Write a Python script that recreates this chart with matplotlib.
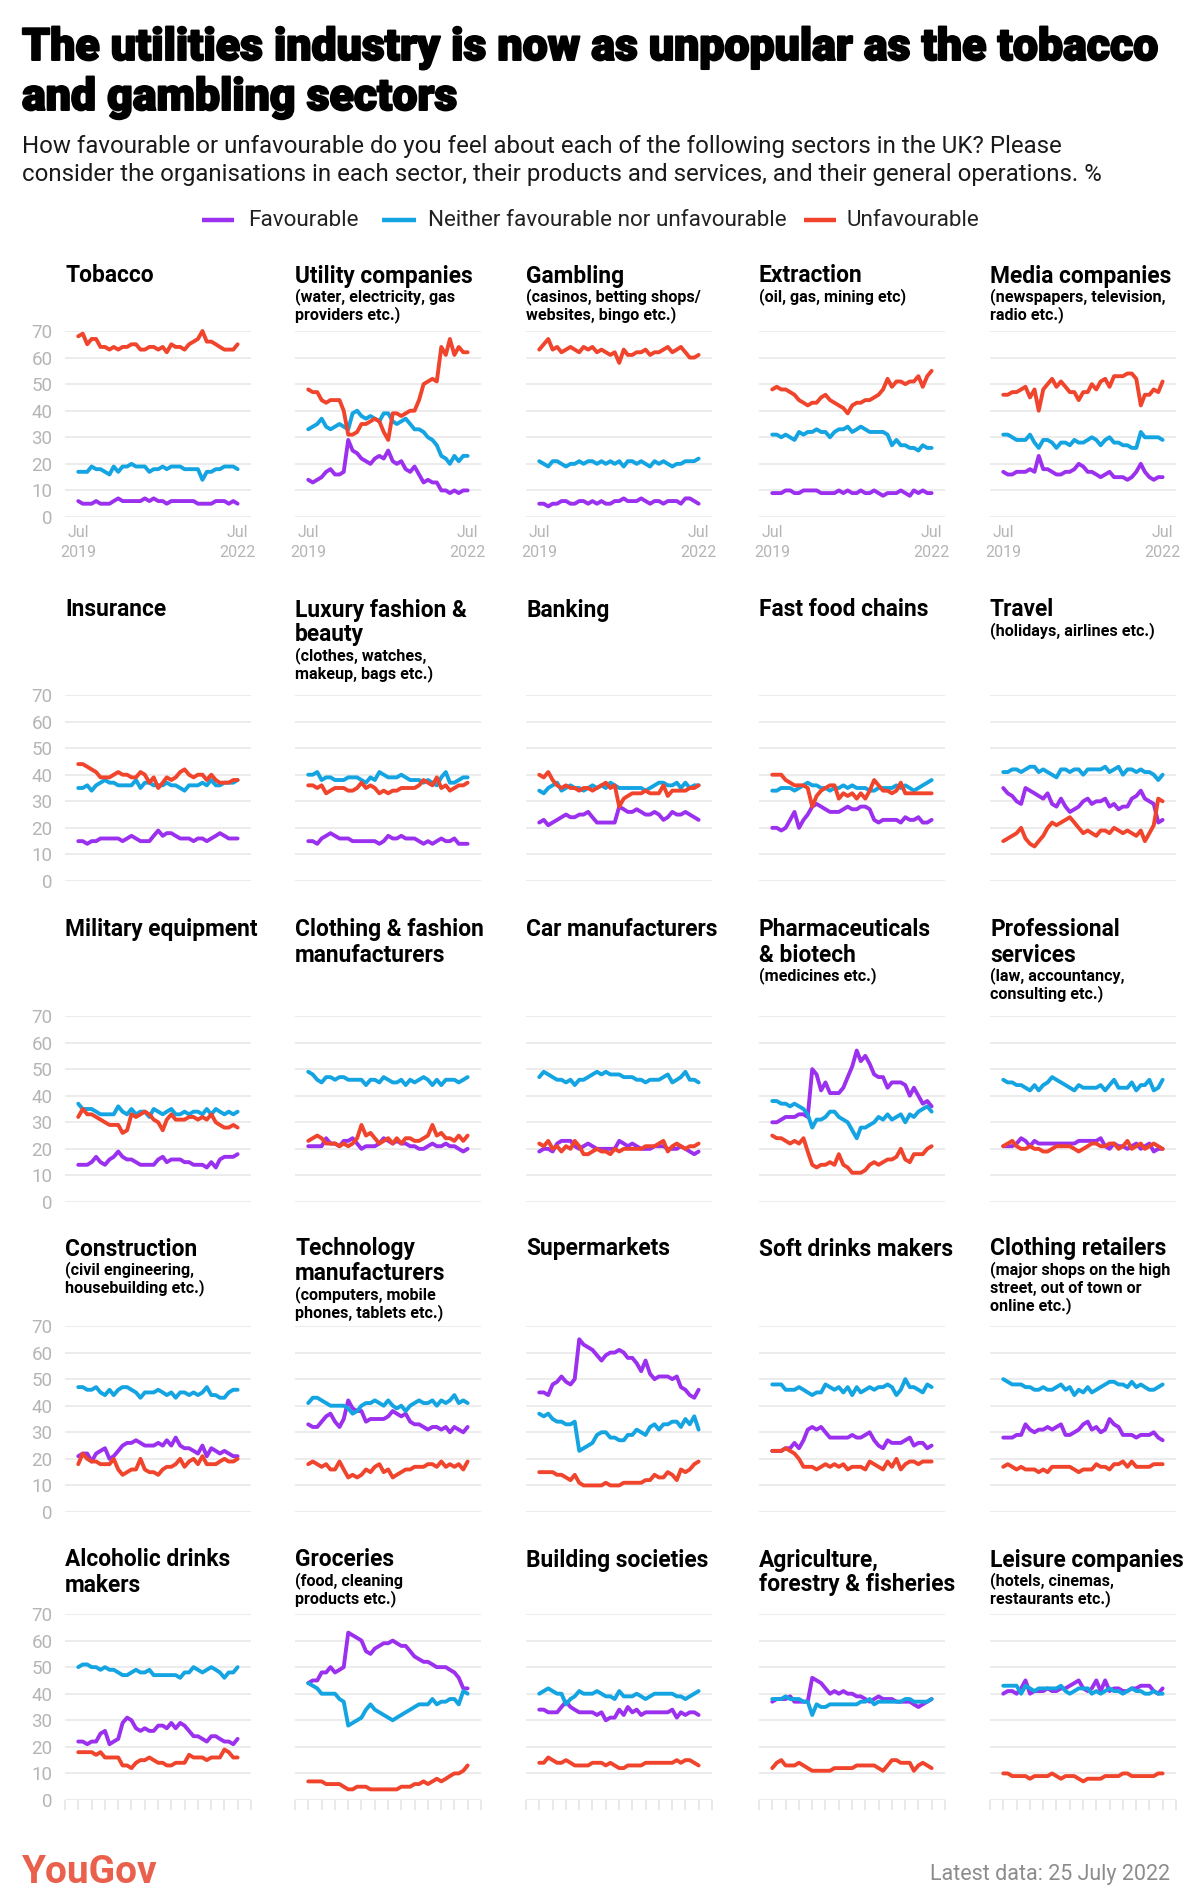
import matplotlib
matplotlib.use("Agg")
import matplotlib.pyplot as plt
import matplotlib.patheffects as pe
import numpy as np
import pandas as pd
from matplotlib.lines import Line2D

plt.rcParams['font.family'] = ['Roboto', 'DejaVu Sans']

# ---------------- data (monthly, Jul 2019 - Jul 2022) ----------------
dates = pd.date_range('2019-07-01', '2022-07-01', freq='MS')
series_names = ['Favourable', 'Neither favourable nor unfavourable', 'Unfavourable']

tobacco_fav = [6,5,5,5,6,5,5,5,6,7,6,6,6,6,6,7,6,7,6,6,5,6,6,6,6,6,6,5,5,5,5,6,6,6,5,6,5]
tobacco_nei = [17,17,17,19,18,18,17,16,19,17,19,19,20,19,19,19,17,18,18,19,18,19,19,19,18,18,18,18,14,17,17,18,18,19,19,19,18]
tobacco_unf = [68,69,65,67,67,64,64,63,64,63,64,64,65,65,63,63,64,64,63,64,62,65,64,64,63,65,66,67,70,66,66,65,64,63,63,63,65]

utility_fav = [14,13,14,15,17,18,16,16,17,29,25,24,22,21,20,22,23,22,25,21,20,21,18,17,19,16,13,14,13,13,10,10,9,10,9,10,10]
utility_nei = [33,34,35,37,34,33,34,35,34,33,39,40,38,37,38,37,36,39,39,36,35,36,37,35,33,33,32,30,29,27,23,22,20,23,21,23,23]
utility_unf = [48,47,47,44,43,44,44,44,40,31,31,32,35,35,36,37,36,32,29,39,39,38,39,40,40,44,50,51,52,51,64,61,67,61,64,62,62]

gambling_fav = [5,5,4,5,5,6,6,5,5,6,6,5,6,5,6,5,5,6,6,7,6,6,6,7,6,5,6,6,5,6,6,6,5,7,7,6,5]
gambling_nei = [21,20,19,21,21,20,19,20,20,21,20,21,21,20,21,20,21,20,21,19,21,21,20,21,20,19,21,20,21,20,19,20,20,21,21,21,22]
gambling_unf = [63,65,67,63,64,62,63,64,63,62,64,63,64,62,63,62,61,62,58,63,61,61,62,62,63,61,62,62,63,64,62,63,64,62,60,60,61]

extraction_fav = [9,9,9,10,10,9,9,10,10,10,10,9,9,9,9,10,9,10,9,9,10,9,9,10,9,8,9,9,9,10,9,8,10,9,10,9,9]
extraction_nei = [31,31,30,31,30,29,32,31,32,32,33,32,32,30,32,33,33,34,32,33,34,33,32,32,32,32,31,27,29,27,27,26,26,25,27,26,26]
extraction_unf = [48,49,48,48,47,46,44,43,42,43,43,45,46,44,43,42,41,39,42,43,43,44,44,45,46,48,52,49,51,51,50,51,51,53,49,53,55]

media_fav = [17,16,16,17,17,17,18,17,23,18,18,17,16,16,17,17,18,20,19,17,17,16,15,16,17,15,15,15,14,15,17,20,17,15,14,15,15]
media_nei = [31,31,30,29,29,29,31,28,26,29,29,28,26,28,28,27,29,28,28,29,30,29,27,29,30,28,28,27,27,26,26,32,30,30,30,30,29]
media_unf = [46,46,47,47,48,49,45,48,40,48,50,52,49,51,49,47,47,44,47,47,50,48,51,52,49,53,53,53,54,54,52,42,46,46,48,47,51]

insurance_fav = [15,15,14,15,15,16,16,16,16,16,15,16,17,16,15,15,15,17,19,17,18,18,17,16,16,16,15,16,16,15,16,17,18,17,16,16,16]
insurance_nei = [35,35,36,34,36,37,38,37,37,36,36,36,36,38,35,37,37,36,36,36,37,36,36,35,34,36,36,36,37,36,38,36,36,37,37,37,38]
insurance_unf = [44,44,43,42,41,39,39,39,40,41,40,40,39,39,41,40,37,39,35,37,39,38,39,41,42,40,39,40,40,38,40,38,37,37,37,38,38]

luxury_fav = [15,15,14,16,17,18,17,16,16,16,15,15,15,15,15,15,14,15,17,16,16,17,16,16,16,15,14,15,14,15,16,15,15,16,14,14,14]
luxury_nei = [40,40,41,38,39,39,38,38,38,39,39,39,38,37,39,38,41,40,39,39,39,40,39,38,38,38,37,38,37,36,39,41,37,37,38,39,39]
luxury_unf = [36,36,35,36,33,34,35,35,35,34,34,35,37,35,36,35,33,34,33,34,34,35,35,35,35,36,38,37,36,39,35,36,34,35,36,36,37]

banking_fav = [22,23,21,22,23,24,25,24,24,25,25,26,24,22,22,22,22,22,28,27,26,26,27,26,25,25,26,25,23,24,26,25,25,26,25,24,23]
banking_nei = [34,33,35,36,37,34,35,36,35,35,34,35,36,35,36,35,37,36,35,35,35,35,35,35,34,35,36,37,37,36,36,37,35,37,35,36,36]
banking_unf = [40,39,41,38,36,35,36,35,35,34,35,35,34,35,36,37,35,36,28,31,32,33,33,33,34,33,33,33,36,32,34,34,34,34,35,35,36]

fastfood_fav = [20,20,19,20,23,26,20,23,25,28,29,28,27,26,26,26,27,28,27,27,28,28,27,23,22,23,23,23,23,22,24,23,23,24,22,22,23]
fastfood_nei = [34,34,35,35,35,34,35,36,37,36,36,35,35,34,35,35,36,35,36,35,35,35,34,34,35,35,35,35,36,35,36,35,34,35,36,37,38]
fastfood_unf = [40,40,40,38,37,36,36,36,35,28,32,34,35,36,36,31,33,32,33,31,33,31,34,38,36,34,34,33,34,37,33,33,33,33,33,33,33]

travel_fav = [35,33,32,30,29,35,34,33,32,31,33,29,28,31,28,26,27,28,30,31,29,30,30,31,28,29,27,28,28,31,32,34,31,30,29,22,23]
travel_nei = [41,41,42,42,41,42,43,43,41,42,41,40,39,42,42,41,42,42,40,42,42,42,42,43,41,42,43,40,42,42,41,42,41,41,40,38,40]
travel_unf = [15,16,17,18,20,16,14,13,15,17,20,22,21,22,23,24,22,20,18,19,18,17,19,19,18,20,19,18,19,18,17,19,15,18,21,31,30]

military_fav = [14,14,14,15,17,15,14,16,17,19,17,16,16,15,14,14,14,14,16,17,15,16,16,16,15,15,14,14,14,13,15,13,16,17,17,17,18]
military_nei = [37,35,35,35,34,33,33,33,33,36,34,33,35,33,34,34,32,35,34,33,34,35,33,33,34,33,34,34,33,35,33,35,34,33,34,33,34]
military_unf = [32,35,33,33,32,31,30,29,29,29,26,27,33,32,33,34,33,31,30,27,31,33,31,31,31,32,32,31,32,31,33,30,29,28,28,29,28]

clothmanu_fav = [21,21,21,21,24,22,22,21,23,23,24,22,20,21,21,21,22,24,23,22,23,22,22,21,21,20,20,21,22,21,21,22,21,21,20,19,20]
clothmanu_nei = [49,48,46,45,47,47,46,47,47,46,46,46,46,44,46,46,45,47,46,45,45,46,44,46,45,46,47,46,44,46,44,46,46,46,45,46,47]
clothmanu_unf = [23,24,25,24,22,22,22,21,22,21,22,24,29,25,26,24,22,23,24,22,24,22,24,24,23,23,24,25,29,25,26,24,24,23,25,23,25]

car_fav = [19,20,20,19,22,23,23,23,21,20,21,22,21,20,20,20,20,20,23,22,21,22,21,20,20,20,21,21,21,20,20,20,21,20,19,18,19]
car_nei = [47,49,48,47,46,46,45,46,44,46,46,47,48,49,48,49,48,48,48,47,47,47,46,46,45,46,46,46,47,48,45,46,47,49,46,46,45]
car_unf = [22,21,23,20,21,19,21,20,23,21,18,18,19,20,19,19,18,20,19,20,20,20,20,20,21,21,21,22,23,19,21,22,21,20,21,21,22]

pharma_fav = [30,30,31,32,32,32,33,33,32,50,48,42,45,41,41,41,43,47,51,57,53,55,52,48,47,47,43,45,45,45,44,40,43,40,37,38,36]
pharma_nei = [38,38,37,37,36,37,36,35,33,28,31,31,32,34,34,32,31,30,27,24,28,28,29,30,32,31,33,31,32,33,30,33,32,34,35,36,34]
pharma_unf = [25,24,24,23,22,23,22,24,19,14,13,14,14,15,14,18,14,13,11,11,11,12,14,15,14,15,16,16,17,20,16,15,18,18,18,20,21]

profserv_fav = [21,21,21,22,24,23,21,23,22,22,22,22,22,22,22,22,22,23,23,23,23,23,24,21,20,22,21,21,20,21,22,20,21,22,19,20,20]
profserv_nei = [46,45,45,44,44,43,42,44,42,44,45,47,46,45,44,43,42,44,43,43,43,43,44,42,44,46,43,43,43,45,42,44,44,46,42,43,46]
profserv_unf = [21,22,23,21,20,20,21,20,20,19,19,20,21,21,21,21,20,19,20,21,22,22,21,21,22,22,20,21,23,20,21,22,20,21,22,21,20]

construction_fav = [21,22,22,19,22,23,24,20,21,23,25,26,26,27,26,25,25,25,26,25,27,25,28,25,24,24,23,22,25,21,24,23,22,23,22,21,21]
construction_nei = [47,47,46,46,47,45,44,46,44,46,47,47,46,45,43,45,45,45,46,45,44,45,43,45,45,44,45,44,45,47,44,44,43,43,45,46,46]
construction_unf = [18,22,20,19,19,18,18,18,20,16,14,15,16,16,20,16,15,15,14,16,17,17,18,20,17,19,20,18,21,18,18,18,19,20,19,19,20]

techmanu_fav = [33,32,32,34,36,37,34,32,35,42,39,38,38,34,35,35,35,35,36,38,37,36,37,34,33,33,32,31,32,32,31,32,30,32,31,30,32]
techmanu_nei = [41,43,43,42,41,40,40,40,40,39,37,38,40,41,41,42,41,40,42,40,39,40,38,40,41,42,41,41,42,40,42,41,42,44,41,42,41]
techmanu_unf = [18,19,18,17,18,16,16,19,16,13,14,13,14,16,15,17,18,15,16,13,14,15,16,16,17,17,17,18,18,17,19,17,18,17,18,16,19]

supermarkets_fav = [45,45,44,48,49,51,49,48,50,65,63,62,61,59,57,59,60,60,61,60,58,58,56,53,57,52,50,51,51,51,50,51,47,46,44,43,46]
supermarkets_nei = [37,36,37,35,34,34,33,33,34,23,24,25,26,29,30,30,28,28,27,27,29,29,31,30,29,32,33,31,33,33,34,34,32,35,33,36,31]
supermarkets_unf = [15,15,15,15,14,14,13,12,14,11,10,10,10,10,10,11,10,10,10,11,11,11,11,11,12,12,14,13,13,15,14,12,16,15,16,18,19]

softdrinks_fav = [23,23,23,24,24,26,24,27,31,32,31,32,30,28,28,28,28,28,29,28,28,29,30,27,25,24,27,26,26,26,27,28,25,26,26,24,25]
softdrinks_nei = [48,48,48,46,46,46,47,46,45,44,45,45,48,47,46,47,45,47,44,47,45,46,47,46,47,47,48,47,44,46,50,47,47,46,45,48,47]
softdrinks_unf = [23,23,23,24,23,22,20,17,17,17,16,17,18,17,18,17,18,16,17,17,17,16,19,18,17,16,19,17,20,16,18,19,19,18,19,19,19]

clothretail_fav = [28,28,28,29,29,33,31,30,31,31,32,31,32,33,29,29,30,31,33,34,31,32,30,31,35,33,32,29,29,29,28,29,29,29,30,28,27]
clothretail_nei = [50,49,48,48,48,47,47,46,46,47,46,46,47,48,46,47,44,46,45,47,45,46,47,48,49,49,48,48,47,49,47,48,47,46,46,47,48]
clothretail_unf = [17,18,17,16,17,16,16,16,15,16,15,17,17,17,17,17,16,15,16,16,16,18,17,17,16,18,18,19,17,19,17,17,17,17,18,18,18]

alcohol_fav = [22,22,21,22,22,25,26,21,22,23,29,31,30,27,26,27,26,26,28,28,27,29,27,29,28,26,24,24,23,22,24,24,23,22,22,21,23]
alcohol_nei = [50,51,51,50,50,49,50,49,49,48,47,47,48,49,48,48,49,47,47,47,47,47,47,46,48,48,50,49,48,49,50,49,48,46,48,48,50]
alcohol_unf = [18,18,18,18,17,18,16,16,16,16,13,13,12,14,15,15,16,15,14,14,13,13,14,14,14,17,16,16,16,15,16,16,16,19,18,16,16]

groceries_fav = [44,45,45,48,48,50,48,49,50,63,62,61,60,56,55,57,58,59,59,60,59,58,58,56,54,53,52,52,51,50,50,50,49,48,46,42,42]
groceries_nei = [44,43,42,40,40,40,40,38,37,28,29,30,31,34,36,34,33,32,31,30,31,32,33,34,35,36,36,36,38,36,37,37,38,38,36,41,40]
groceries_unf = [7,7,7,7,6,6,6,6,5,4,4,5,5,5,4,4,4,4,4,4,4,5,5,5,6,6,7,6,7,8,7,8,9,10,10,11,13]

buildsoc_fav = [34,34,33,33,33,35,37,35,34,33,33,33,33,32,33,30,31,31,34,32,35,33,34,32,33,33,33,33,33,33,34,31,33,32,33,33,32]
buildsoc_nei = [40,41,42,41,40,40,36,38,39,41,40,40,40,41,40,39,39,38,41,39,39,39,40,39,38,39,40,40,40,40,40,39,39,38,39,40,41]
buildsoc_unf = [14,14,16,15,14,14,15,14,13,13,13,13,14,14,14,13,14,13,12,12,13,13,13,13,14,14,14,14,14,14,14,15,14,15,15,14,13]

agri_fav = [37,38,38,38,39,37,37,37,37,46,45,44,42,40,41,40,41,40,40,39,39,38,37,38,39,38,38,38,37,37,37,37,36,35,36,37,38]
agri_nei = [38,38,38,39,38,38,38,37,37,32,36,35,35,36,36,36,36,36,36,36,37,37,38,36,37,37,37,37,37,37,38,38,37,37,37,37,38]
agri_unf = [12,14,15,13,13,13,14,13,12,11,11,11,11,11,12,12,12,12,12,13,13,13,13,13,12,11,13,15,15,14,14,14,11,13,14,13,12]

leisure_fav = [40,41,41,40,42,45,40,41,41,41,42,41,41,42,42,43,44,45,42,41,42,45,41,45,41,42,42,41,41,42,42,43,43,43,41,40,42]
leisure_nei = [43,43,43,43,40,43,42,41,42,42,42,42,42,43,41,40,41,42,42,42,40,41,40,41,42,41,41,40,41,42,41,41,40,40,41,40,40]
leisure_unf = [10,10,9,9,9,9,8,9,9,9,9,10,9,8,9,9,9,8,7,8,8,8,8,9,9,9,9,10,10,9,9,9,9,9,9,10,10]

panel_titles = [
    "Tobacco", "Utility companies", "Gambling", "Extraction", "Media companies",
    "Insurance", "Luxury fashion &\nbeauty", "Banking", "Fast food chains", "Travel",
    "Military equipment", "Clothing & fashion\nmanufacturers", "Car manufacturers",
    "Pharmaceuticals\n& biotech", "Professional\nservices",
    "Construction", "Technology\nmanufacturers", "Supermarkets", "Soft drinks makers", "Clothing retailers",
    "Alcoholic drinks\nmakers", "Groceries", "Building societies", "Agriculture,\nforestry & fisheries",
    "Leisure companies",
]
panel_notes = [
    "", "(water, electricity, gas\nproviders etc.)", "(casinos, betting shops/\nwebsites, bingo etc.)",
    "(oil, gas, mining etc)", "(newspapers, television,\nradio etc.)",
    "", "(clothes, watches,\nmakeup, bags etc.)", "", "", "(holidays, airlines etc.)",
    "", "", "", "(medicines etc.)", "(law, accountancy,\nconsulting etc.)",
    "(civil engineering,\nhousebuilding etc.)", "(computers, mobile\nphones, tablets etc.)", "", "",
    "(major shops on the high\nstreet, out of town or\nonline etc.)",
    "", "(food, cleaning\nproducts etc.)", "", "", "(hotels, cinemas,\nrestaurants etc.)",
]
panel_data = [
    (tobacco_fav, tobacco_nei, tobacco_unf), (utility_fav, utility_nei, utility_unf),
    (gambling_fav, gambling_nei, gambling_unf), (extraction_fav, extraction_nei, extraction_unf),
    (media_fav, media_nei, media_unf),
    (insurance_fav, insurance_nei, insurance_unf), (luxury_fav, luxury_nei, luxury_unf),
    (banking_fav, banking_nei, banking_unf), (fastfood_fav, fastfood_nei, fastfood_unf),
    (travel_fav, travel_nei, travel_unf),
    (military_fav, military_nei, military_unf), (clothmanu_fav, clothmanu_nei, clothmanu_unf),
    (car_fav, car_nei, car_unf), (pharma_fav, pharma_nei, pharma_unf),
    (profserv_fav, profserv_nei, profserv_unf),
    (construction_fav, construction_nei, construction_unf), (techmanu_fav, techmanu_nei, techmanu_unf),
    (supermarkets_fav, supermarkets_nei, supermarkets_unf), (softdrinks_fav, softdrinks_nei, softdrinks_unf),
    (clothretail_fav, clothretail_nei, clothretail_unf),
    (alcohol_fav, alcohol_nei, alcohol_unf), (groceries_fav, groceries_nei, groceries_unf),
    (buildsoc_fav, buildsoc_nei, buildsoc_unf), (agri_fav, agri_nei, agri_unf),
    (leisure_fav, leisure_nei, leisure_unf),
]
y_ticks = [0, 10, 20, 30, 40, 50, 60, 70]

# ---------------- styling / layout ----------------
colors = ['#9b30ee', '#14a4e2', '#f0442c']
W, H = 1200, 1896
fig = plt.figure(figsize=(W / 100, H / 100), dpi=100)
fig.patch.set_facecolor('white')
renderer = fig.canvas.get_renderer()

def fx(px):
    return px / W

def fy(py):
    return 1 - py / H

def fit(t, target):
    bb = t.get_window_extent(renderer)
    t.set_fontsize(t.get_fontsize() * target / bb.width)
    return t.get_fontsize()

heavy = [pe.Stroke(linewidth=1.4, foreground='black'), pe.Normal()]

# Title
t1 = fig.text(fx(22), fy(60), "The utilities industry is now as unpopular as the tobacco",
              fontsize=28, fontweight='heavy', color='black', va='baseline')
fs = fit(t1, 1134)
t1.set_path_effects(heavy)
fig.text(fx(22), fy(110), "and gambling sectors", fontsize=fs, fontweight='heavy',
         color='black', va='baseline', path_effects=heavy)
s1 = fig.text(fx(22), fy(153), "How favourable or unfavourable do you feel about each of the following sectors in the UK? Please",
              fontsize=15, color='#1a1a1a', va='baseline')
fs2 = fit(s1, 1042)
fig.text(fx(22), fy(181), "consider the organisations in each sector, their products and services, and their general operations. %",
         fontsize=fs2, color='#1a1a1a', va='baseline')

# Legend
leg_y = fy(220)
leg_items = [(202, 234, 248), (382, 416, 428), (804, 836, 846)]
for (x0, x1, xt), c, name in zip(leg_items, colors, series_names):
    fig.add_artist(Line2D([fx(x0), fx(x1)], [leg_y, leg_y], transform=fig.transFigure,
                          color=c, lw=3.2, solid_capstyle='butt'))
    fig.text(fx(xt), leg_y, name, fontsize=16.2, color='#222222', va='center')

col_left = [65, 295, 526, 759, 990]
ax_w = 186
row_top = [331, 695, 1016, 1326, 1614]
ax_h = 186
title_y = [276, 610, 930, 1249, 1560]

xmin = pd.Timestamp('2019-04-01')
xmax = pd.Timestamp('2022-10-01')
quarter_ticks = pd.date_range(xmin, xmax, freq='QS')

for i, (title, note, data) in enumerate(zip(panel_titles, panel_notes, panel_data)):
    r, c = divmod(i, 5)
    ax = fig.add_axes([fx(col_left[c]), fy(row_top[r] + ax_h), ax_w / W, ax_h / H])
    for vals, col in zip(data, colors):
        ax.plot(dates, vals, color=col, lw=2.8, solid_joinstyle='round',
                solid_capstyle='round', clip_on=False, zorder=3)
    ax.set_ylim(0, 70)
    ax.set_xlim(xmin, xmax)
    ax.set_yticks(y_ticks)
    ax.grid(axis='y', color='#ebebeb', lw=1.3, zorder=0)
    ax.set_axisbelow(True)
    for sp in ax.spines.values():
        sp.set_visible(False)
    ax.tick_params(axis='y', length=0, pad=9, labelsize=13.5, labelcolor='#b5b5b5')
    if c != 0:
        ax.tick_params(axis='y', labelleft=False)
    if r == 0:
        ax.set_xticks([dates[0], dates[-1]])
        ax.set_xticklabels(['Jul\n2019', 'Jul\n2022'], linespacing=1.35)
        ax.tick_params(axis='x', length=0, pad=6, labelsize=11.5, labelcolor='#b5b5b5')
    elif r == 4:
        ax.set_xticks(quarter_ticks)
        ax.set_xticklabels([])
        ax.tick_params(axis='x', length=7.5, width=1.1, color='#e3e3e3', direction='out')
    else:
        ax.set_xticks([])
    # titles
    ty = title_y[r]
    lines = title.split('\n')
    for k, ln in enumerate(lines):
        fig.text(fx(col_left[c]), fy(ty + 25 * k), ln, fontsize=16.4, fontweight='bold',
                 color='black', va='center')
    if note:
        ny = ty + 25 * (len(lines) - 1) + 21
        for k, ln in enumerate(note.split('\n')):
            fig.text(fx(col_left[c]), fy(ny + 18 * k), ln, fontsize=11.6,
                     fontweight='semibold', color='black', va='center')

# Footer
fig.text(fx(22), fy(1883), "YouGov", fontsize=28, fontweight='bold', color='#e9604c',
         va='baseline')
lt = fig.text(fx(1170), fy(1880), "Latest data: 25 July 2022", fontsize=15.5, color='#8c8c8c',
              va='baseline', ha='right')

fig.savefig('out.png', dpi=100, facecolor='white')
